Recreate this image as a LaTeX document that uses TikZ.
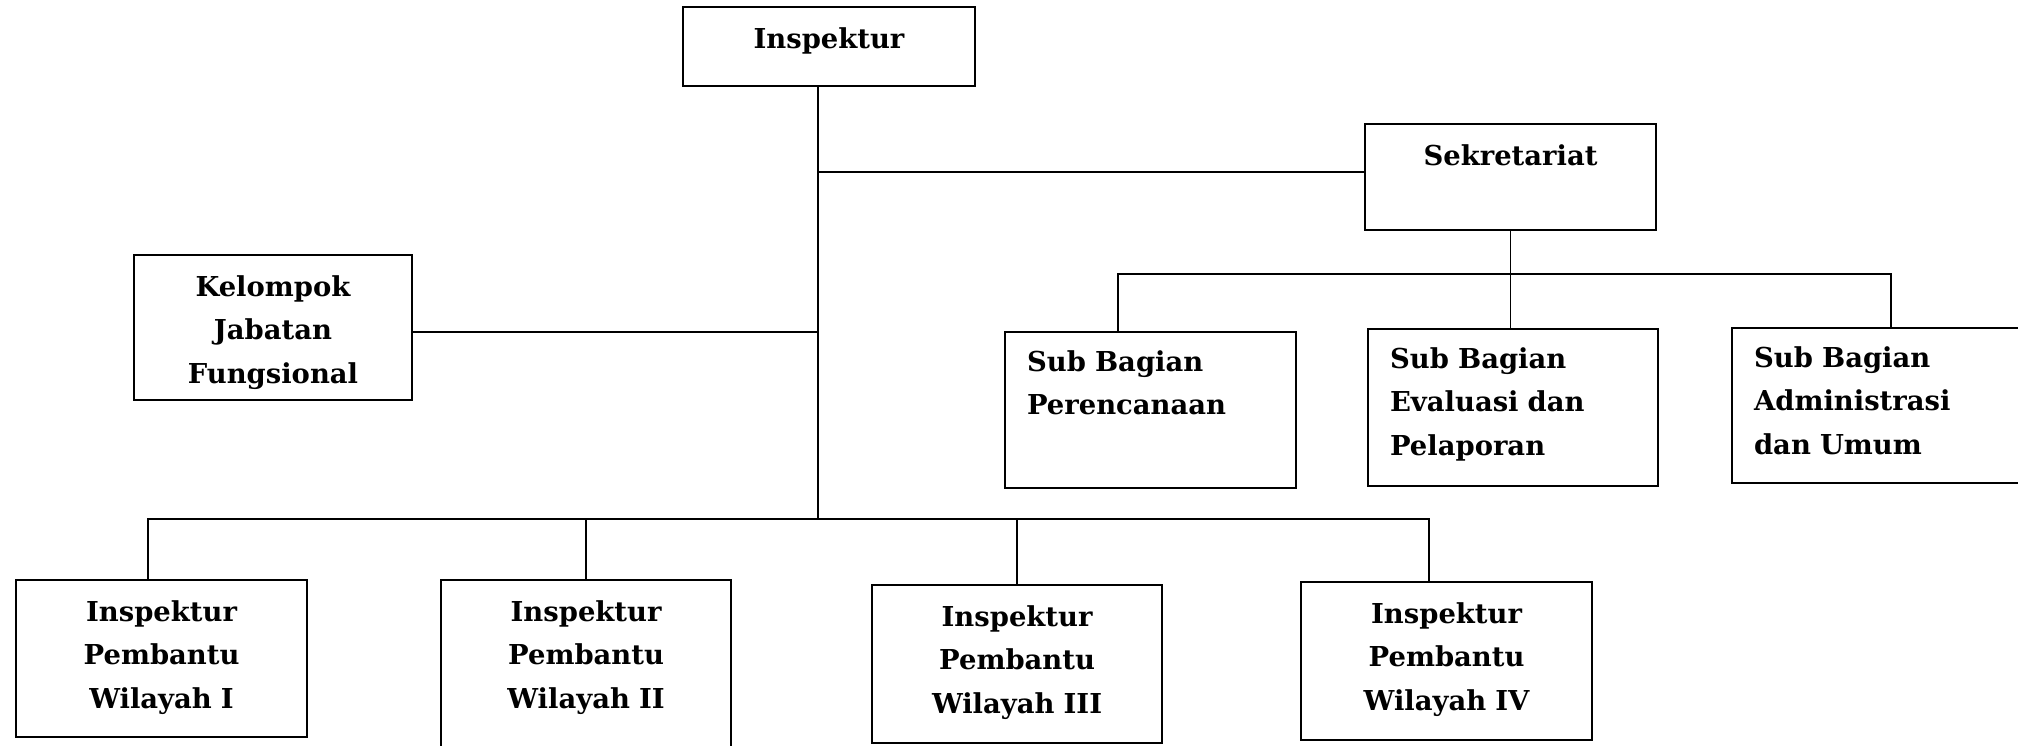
\documentclass[tikz,border=0pt]{standalone}
\usepackage{fontspec}
\usepackage{tikz}
\usetikzlibrary{positioning, calc}
\newfontfamily\unitfont{DejaVu Serif}
\tikzset{
  unit/.style={draw, line width=0.6pt, font={\fontsize{7.8pt}{12.5pt}\unitfont\bfseries}, align=center, inner sep=0pt, text height=0.41cm},
  subunit/.style={unit, align=left, inner xsep=0.22cm, text height=0.39cm},
  link/.style={line width=0.5pt}
}

\begin{document}
\begin{tikzpicture}
    \useasboundingbox (0,0) rectangle (20.18,7.46);

    % Top level
    \node[unit, anchor=north, text width=2.92cm, text depth=0.38cm] (insp) at (8.29,7.40) {Inspektur};
    \node[unit, anchor=north, text width=2.91cm, text depth=0.65cm] (sekr) at (15.105,6.23) {Sekretariat};
    \node[unit, anchor=north, text width=2.78cm, text depth=1.04cm] (kjf) at (2.73,4.92) {Kelompok\\Jabatan\\Fungsional};

    % Sub bagian
    \node[subunit, anchor=north west, text width=2.47cm, text depth=1.17cm] (perenc) at (10.04,4.15) {Sub Bagian\\Perencanaan};
    \node[subunit, anchor=north west, text width=2.46cm, text depth=1.18cm] (evap) at (13.67,4.18) {Sub Bagian\\Evaluasi dan\\Pelaporan};
    \node[subunit, anchor=north west, text width=2.47cm, text depth=1.16cm] (adum) at (17.31,4.19) {Sub Bagian\\Administrasi\\dan Umum};

    % Inspektur pembantu
    \node[unit, anchor=north west, text width=2.91cm, text depth=1.16cm] (ipw1) at (0.15,1.67) {Inspektur\\Pembantu\\Wilayah I};
    \node[unit, anchor=north west, text width=2.90cm, text depth=1.34cm] (ipw2) at (4.40,1.67) {Inspektur\\Pembantu\\Wilayah II};
    \node[unit, anchor=north west, text width=2.90cm, text depth=1.17cm] (ipw3) at (8.71,1.62) {Inspektur\\Pembantu\\Wilayah III};
    \node[unit, anchor=north west, text width=2.91cm, text depth=1.17cm] (ipw4) at (13.00,1.65) {Inspektur\\Pembantu\\Wilayah IV};

    % Connectors
    \coordinate (trunk) at ([xshift=-0.11cm]insp.south);
    \coordinate (bus) at (8.18,2.27);
    \coordinate (subbus) at ([yshift=-0.43cm]sekr.south);
    \coordinate (sekrin) at ([yshift=0.05cm]sekr.west);
    \coordinate (kjfout) at ([yshift=-0.045cm]kjf.east);

    \draw[link] (trunk) -- (bus);
    \draw[link] (trunk |- sekrin) -- (sekrin);
    \draw[link] (kjfout) -- (kjfout -| trunk);

    \draw[link] (sekr.south) -- (sekr.south |- evap.north);
    \draw[link] ([xshift=1.14cm]perenc.north west) |- (subbus) -| ([xshift=1.6cm]adum.north west);

    \draw[link] ([xshift=1.33cm]ipw1.north west) |- (bus) -| ([xshift=1.29cm]ipw4.north west);
    \draw[link] (ipw2.north) -- (ipw2.north |- bus);
    \draw[link] (ipw3.north) -- (ipw3.north |- bus);
\end{tikzpicture}
\end{document}
